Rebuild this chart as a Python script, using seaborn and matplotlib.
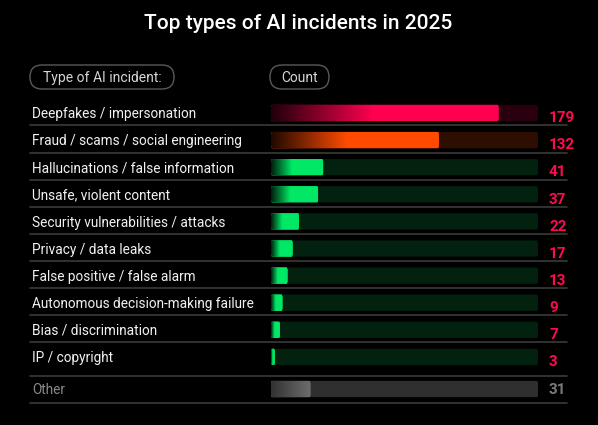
import numpy as np
import pandas as pd
import matplotlib
matplotlib.use("Agg")
import matplotlib.pyplot as plt
import matplotlib.colors as mcolors
import matplotlib.transforms as mtransforms
from matplotlib.patches import FancyBboxPatch
import seaborn as sns

# --- data ---
categories = [
    "Deepfakes / impersonation",
    "Fraud / scams / social engineering",
    "Hallucinations / false information",
    "Unsafe, violent content",
    "Security vulnerabilities / attacks",
    "Privacy / data leaks",
    "False positive / false alarm",
    "Autonomous decision-making failure",
    "Bias / discrimination",
    "IP / copyright",
]
counts = [179, 132, 41, 37, 22, 17, 13, 9, 7, 3]
other_label = "Other"
other_count = 31
track_max = 210

bar_colors = ["#ff0050", "#ff4a00"] + ["#00e865"] * 8
track_colors = ["#2a0010", "#2e0e00"] + ["#03210f"] * 8
other_bar_color = "#6e6e6e"
other_track_color = "#2f2f2f"
num_color = "#ff0a50"

sns.set_theme(style="white")
plt.rcParams["font.family"] = ["Roboto", "DejaVu Sans"]

W, H = 598, 425
fig = plt.figure(figsize=(W / 100, H / 100), dpi=100, facecolor="black")

# overlay axes in pixel coordinates for the decorations
deco = fig.add_axes([0, 0, 1, 1], zorder=0)
deco.set_xlim(0, W)
deco.set_ylim(H, 0)
deco.axis("off")
deco.set_facecolor("black")


def px_axes(left, top, width, height):
    return fig.add_axes([left / W, 1 - (top + height) / H, width / W, height / H], zorder=1)


row_px = 27.1
ax = px_axes(271, 113 - row_px / 2, 267, row_px * len(categories))
ax_o = px_axes(271, 375.5, 267, row_px)

df = pd.DataFrame({"category": categories, "count": counts, "track": [track_max] * len(categories)})
sns.barplot(data=df, y="category", x="track", hue="category", palette=track_colors,
            width=0.6, ax=ax, legend=False, saturation=1, linewidth=0)
sns.barplot(data=df, y="category", x="count", hue="category", palette=bar_colors,
            width=0.6, ax=ax, legend=False, saturation=1, linewidth=0)

df_o = pd.DataFrame({"category": [other_label], "count": [other_count], "track": [track_max]})
sns.barplot(data=df_o, y="category", x="track", color=other_track_color, width=0.6, ax=ax_o,
            saturation=1, linewidth=0)
sns.barplot(data=df_o, y="category", x="count", color=other_bar_color, width=0.6, ax=ax_o,
            saturation=1, linewidth=0)


def round_patch(a, patch, zorder):
    # swap a plain bar rectangle for a slightly rounded one of the same size
    x0, y0 = patch.get_x(), patch.get_y()
    w, h = patch.get_width(), patch.get_height()
    rp = FancyBboxPatch((x0, y0), w, h, boxstyle="round,pad=0,rounding_size=0.9",
                        mutation_aspect=h / 4.5, fc=patch.get_facecolor(), ec="none", zorder=zorder)
    a.add_patch(rp)
    patch.set_visible(False)
    return rp


def gradient_bar(a, patch, color, frac, start):
    x0, y0 = patch.get_x(), patch.get_y()
    w, h = patch.get_width(), patch.get_height()
    rgb = np.array(mcolors.to_rgb(color))
    t = np.linspace(0, 1, 256)
    k = start + (1 - start) * np.clip(t / frac, 0, 1)
    img = (k[:, None] * rgb[None, :])[None, :, :]
    rp = round_patch(a, patch, 2)
    im = a.imshow(img, extent=(x0, x0 + w, y0 + h, y0), aspect="auto", zorder=3,
                  interpolation="bilinear")
    im.set_clip_path(rp)


n = len(categories)
for p in ax.patches[:n]:
    round_patch(ax, p, 1)
bar_patches = ax.patches[n:2 * n]
for i, p in enumerate(bar_patches):
    frac = 0.45 if i < 2 else 0.4
    gradient_bar(ax, p, bar_colors[i], frac, 0.12)
round_patch(ax_o, ax_o.patches[0], 1)
gradient_bar(ax_o, ax_o.patches[1], other_bar_color, 1.0, 0.45)

for a, nrows in ((ax, n), (ax_o, 1)):
    a.set_xlim(0, track_max)
    a.set_ylim(nrows - 0.5, -0.5)
    a.axis("off")
    a.set_facecolor("none")

# row labels, counts and separators
blend = mtransforms.blended_transform_factory(fig.transFigure, ax.transData)
blend_o = mtransforms.blended_transform_factory(fig.transFigure, ax_o.transData)
for i, (cat, val) in enumerate(zip(categories, counts)):
    ax.text(32 / W, i + 0.19, cat, transform=blend, color="#f2f2f2", fontsize=9.8,
            va="baseline", ha="left")
    ax.text(549 / W, i + 0.34, str(val), transform=blend, color=num_color, fontsize=11,
            fontweight="bold", va="baseline", ha="left")
    if i < n - 1:
        ax.plot([30 / W, 567 / W], [i + 0.46, i + 0.46], transform=blend, color="#3a3a3a",
                lw=1.2, clip_on=False)

ax_o.text(32 / W, 0.17, other_label, transform=blend_o, color="#8a8a8a", fontsize=9.8,
          va="baseline", ha="left")
ax_o.text(549 / W, 0.17, str(other_count), transform=blend_o, color="#7a7a7a", fontsize=11,
          fontweight="bold", va="baseline", ha="left")
for yy in (-0.5, 0.5):
    ax_o.plot([30 / W, 567 / W], [yy, yy], transform=blend_o, color="#3a3a3a", lw=1.2, clip_on=False)

# title and header pills
deco.text(W / 2 - 1, 23, "Top types of AI incidents in 2025", color="white", fontsize=15,
          fontweight="medium", ha="center", va="center")
for (x0, x1, label) in ((30, 174, "Type of AI incident:"), (270, 329, "Count")):
    pill = FancyBboxPatch((x0, 65), x1 - x0, 24,
                          boxstyle="round,pad=0,rounding_size=12",
                          fc="black", ec="#5a5a5a", lw=1)
    deco.add_patch(pill)
    deco.text((x0 + x1) / 2, 77.5, label, color="#d6d6d6", fontsize=10, ha="center", va="center")

fig.savefig("out.png", dpi=100, facecolor="black")
